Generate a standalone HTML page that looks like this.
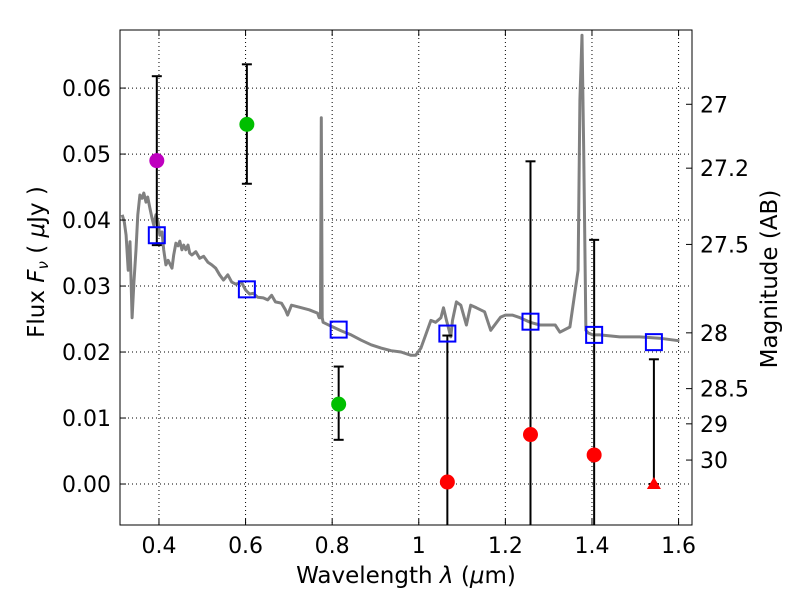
<!DOCTYPE html>
<html><head><meta charset="utf-8"><style>
body{margin:0;background:#fff;}
svg text{font-family:"DejaVu Sans","Liberation Sans",sans-serif;fill:#000;}
</style></head><body>
<svg id="chart" width="800" height="600" viewBox="0 0 800 600" xmlns="http://www.w3.org/2000/svg"></svg>
<script>
const specLam=[0.315,0.320,0.324,0.329,0.333,0.338,0.342,0.347,0.351,0.356,0.361,0.365,0.370,0.374,0.379,0.384,0.388,0.393,0.398,0.402,0.407,0.411,0.416,0.421,0.430,0.434,0.439,0.444,0.448,0.453,0.457,0.462,0.467,0.471,0.476,0.485,0.494,0.503,0.513,0.522,0.531,0.540,0.549,0.559,0.568,0.577,0.591,0.600,0.609,0.618,0.628,0.641,0.651,0.660,0.669,0.683,0.692,0.697,0.706,0.724,0.747,0.766,0.770,0.773,0.775,0.777,0.779,0.798,0.821,0.844,0.867,0.890,0.913,0.936,0.959,0.982,0.993,1.005,1.016,1.028,1.039,1.051,1.057,1.064,1.074,1.078,1.087,1.097,1.110,1.120,1.133,1.152,1.166,1.189,1.200,1.216,1.234,1.257,1.280,1.315,1.326,1.349,1.368,1.372,1.377,1.381,1.386,1.391,1.402,1.418,1.464,1.510,1.556,1.602,1.625];
const specFlux=[0.0408,0.0397,0.0377,0.0324,0.0367,0.0252,0.0305,0.0355,0.0408,0.0438,0.0433,0.0441,0.0427,0.0435,0.0418,0.0403,0.0392,0.0408,0.0397,0.0377,0.0382,0.0355,0.0332,0.0339,0.0327,0.0347,0.0365,0.0361,0.0368,0.0355,0.0362,0.0355,0.0362,0.0350,0.0347,0.0352,0.0342,0.0345,0.0336,0.0332,0.0327,0.0317,0.0309,0.0317,0.0306,0.0303,0.0305,0.0294,0.0288,0.0289,0.0283,0.0282,0.0279,0.0286,0.0276,0.0274,0.0264,0.0256,0.0271,0.0268,0.0264,0.0259,0.0252,0.0252,0.0555,0.0252,0.0245,0.0239,0.0232,0.0226,0.0218,0.0211,0.0206,0.0202,0.0200,0.0195,0.0195,0.0206,0.0226,0.0248,0.0245,0.0252,0.0267,0.0248,0.0223,0.0248,0.0276,0.0271,0.0241,0.0271,0.0267,0.0261,0.0233,0.0253,0.0256,0.0256,0.0252,0.0245,0.0241,0.0241,0.0230,0.0238,0.0324,0.0582,0.0680,0.0506,0.0233,0.0229,0.0226,0.0226,0.0223,0.0223,0.0221,0.0217];
const ptLam=[0.395,0.603,0.815,1.066,1.258,1.405,1.543];
const ptFlux=[0.049,0.0545,0.0121,0.0003,0.0075,0.0044,0.0];
const errHi=[0.0618,0.0636,0.0178,0.0225,0.0489,0.0370,0.0189];
const errLo=[0.0362,0.0455,0.0067,-0.01,-0.01,-0.01,0.0];
const ptColor=['#bf00bf','#00bf00','#00bf00','#ff0000','#ff0000','#ff0000','#ff0000'];
const ptShape=['o','o','o','o','o','o','^'];
const modelFlux=[0.0377,0.0295,0.0234,0.0228,0.0246,0.0226,0.0215];
const xTicks=[0.4,0.6,0.8,1.0,1.2,1.4,1.6];
const xTickLabels=['0.4','0.6','0.8','1','1.2','1.4','1.6'];
const yTicks=[0,0.01,0.02,0.03,0.04,0.05,0.06];
const yTickLabels=['0.00','0.01','0.02','0.03','0.04','0.05','0.06'];
const magTicks=[27,27.2,27.5,28,28.5,29,30];
const magTickLabels=['27','27.2','27.5','28','28.5','29','30'];

const L=120,R=692,T=30,B=525;
const xMin=0.31,xMax=1.631,yMin=-0.00621,yMax=0.0688;
const X=v=>L+(v-xMin)/(xMax-xMin)*(R-L);
const Y=v=>B-(v-yMin)/(yMax-yMin)*(B-T);
const NS='http://www.w3.org/2000/svg';
const svg=document.getElementById('chart');
function mk(tag,attrs,parent){const e=document.createElementNS(NS,tag);for(const k in attrs)e.setAttribute(k,attrs[k]);(parent||svg).appendChild(e);return e;}

const defs=mk('defs',{});const cp=mk('clipPath',{id:'plotclip'},defs);mk('rect',{x:L,y:T,width:R-L,height:B-T},cp);
const plot=mk('g',{'clip-path':'url(#plotclip)'});



xTicks.forEach(t=>{const g=mk('line',{x1:X(t),x2:X(t),y1:T,y2:B,stroke:'#000','stroke-width':1,'stroke-dasharray':'1,3'},plot);

});
yTicks.forEach(t=>{const g=mk('line',{x1:L,x2:R,y1:Y(t),y2:Y(t),stroke:'#000','stroke-width':1,'stroke-dasharray':'1,3'},plot);

});

const d=specLam.map((l,i)=>(i?'L':'M')+X(l).toFixed(1)+','+Y(specFlux[i]).toFixed(1)).join(' ');
const sp=mk('path',{d:d,fill:'none',stroke:'#808080','stroke-width':3,'stroke-linejoin':'round'},plot);



ptLam.forEach((l,i)=>{const x=X(l);
const e=mk('line',{x1:x,x2:x,y1:Y(errHi[i]),y2:Y(errLo[i]),stroke:'#000','stroke-width':2},plot);


[errHi[i],errLo[i]].forEach(v=>{if(v>yMin)mk('line',{x1:x-5,x2:x+5,y1:Y(v),y2:Y(v),stroke:'#000','stroke-width':2},plot);});
});

ptLam.forEach((l,i)=>{const s=mk('rect',{x:X(l)-8,y:Y(modelFlux[i])-8,width:16,height:16,fill:'none',stroke:'#0000ff','stroke-width':2},plot);

});

ptLam.forEach((l,i)=>{const x=X(l),y=Y(ptFlux[i]);let p;
if(ptShape[i]==='^'){p=mk('polygon',{points:`${x},${y-7} ${x-7},${y+5} ${x+7},${y+5}`,fill:ptColor[i]},plot);}
else{p=mk('circle',{cx:x,cy:y,r:7.5,fill:ptColor[i]},plot);}

});

const fr=mk('rect',{x:L,y:T,width:R-L,height:B-T,fill:'none',stroke:'#000','stroke-width':1});



xTicks.forEach((t,i)=>{const x=X(t);mk('line',{x1:x,x2:x,y1:B,y2:B-6,stroke:'#000'});mk('line',{x1:x,x2:x,y1:T,y2:T+6,stroke:'#000'});
const tx=mk('text',{x:x,y:B+28,'text-anchor':'middle','font-size':22});tx.textContent=xTickLabels[i];

});
yTicks.forEach((t,i)=>{const y=Y(t);mk('line',{x1:L,x2:L+6,y1:y,y2:y,stroke:'#000'});
const tx=mk('text',{x:L-9,y:y+8,'text-anchor':'end','font-size':22});tx.textContent=yTickLabels[i];

});
magTicks.forEach((m,i)=>{const y=Y(Math.pow(10,(23.9-m)/2.5));mk('line',{x1:R,x2:R-6,y1:y,y2:y,stroke:'#000'});
const tx=mk('text',{x:R+8,y:y+8,'font-size':22});tx.textContent=magTickLabels[i];

});
</script>
<svg style="position:absolute;left:0;top:0" width="800" height="600">
<text x="406" y="583" text-anchor="middle" font-size="23" style="font-family:'DejaVu Sans','Liberation Sans',sans-serif">Wavelength  <tspan font-style="italic">λ</tspan> (<tspan font-style="italic">μ</tspan>m)</text>
<text transform="translate(44,262) rotate(-90)" text-anchor="middle" font-size="23" style="font-family:'DejaVu Sans','Liberation Sans',sans-serif">Flux  <tspan font-style="italic">F</tspan><tspan font-style="italic" font-size="15" dy="4">ν</tspan><tspan dy="-4">  (  </tspan><tspan font-style="italic">μ</tspan>Jy )</text>
<text transform="translate(777,279) rotate(-90)" text-anchor="middle" font-size="23" style="font-family:'DejaVu Sans','Liberation Sans',sans-serif">Magnitude (AB)</text>
</svg>
</body></html>
